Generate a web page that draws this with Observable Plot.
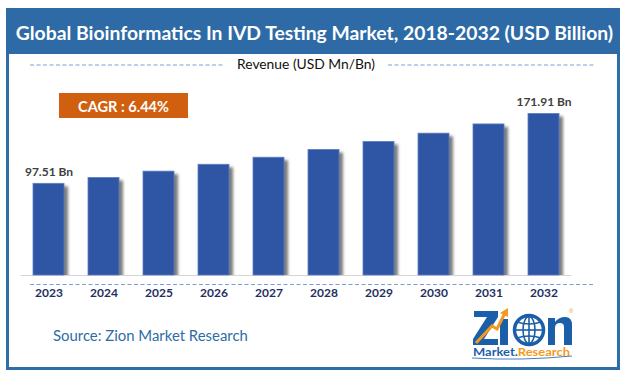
<!DOCTYPE html>
<html><head><meta charset="utf-8">
<script src="https://cdn.jsdelivr.net/npm/d3@7"></script>
<script src="https://cdn.jsdelivr.net/npm/@observablehq/plot@0.6"></script>
<style>
html,body{margin:0;padding:0;background:#fff;}
#root{position:relative;width:626px;height:377px;overflow:hidden;font-family:Lato,"Open Sans",sans-serif;}
#frame{position:absolute;left:6px;top:8px;width:608px;height:356px;border:3px solid #2e6da6;}
#titlebar{position:absolute;left:6px;top:8px;width:614px;height:46px;background:#2e6aa6;}
.t{position:absolute;white-space:nowrap;line-height:1;}
#title{color:#fff;font-weight:700;}
#subtitle{color:#111;font-weight:400;}
#cagrbox{position:absolute;left:59px;top:93px;width:129px;height:25px;background:#d0600f;}
#cagr{color:#fff;font-weight:700;}
#source{color:#2e6da4;}
#plot{position:absolute;left:0;top:60px;}
#decor,#logo{position:absolute;left:0;top:0;}
</style></head>
<body>
<div id="root">
  <div id="frame"></div>
  <div id="titlebar"></div>
  <svg id="decor" width="626" height="377"></svg>
  <div id="cagrbox"></div>
  <div class="t" id="title">Global Bioinformatics In IVD Testing Market, 2018-2032 (USD Billion)</div>
  <div class="t" id="subtitle">Revenue (USD Mn/Bn)</div>
  <div class="t" id="cagr">CAGR : 6.44%</div>
  <div class="t" id="source">Source: Zion Market Research</div>
  <div id="plot"></div>
  <svg id="logo" width="626" height="377"></svg>
</div>
<script>
const years = ["2023","2024","2025","2026","2027","2028","2029","2030","2031","2032"];
const revenue = [97.51, 103.8, 110.5, 117.8, 125.3, 133.6, 142.1, 150.9, 160.7, 171.91];
const valueLabels = ["97.51 Bn","","","","","","","","","171.91 Bn"];

const data = years.map((year, i) => ({year, value: revenue[i], label: valueLabels[i]}));

// fit text helper: set size so text spans targetWidth, centered at cx, cy
function place(id, base, targetW, cx, cy, left) {
  const el = document.getElementById(id);
  el.style.fontSize = base + "px";
  const w = el.getBoundingClientRect().width;
  const fs = base * targetW / w;
  el.style.fontSize = fs + "px";
  const r = el.getBoundingClientRect();
  el.style.left = (left != null ? left : cx - r.width / 2) + "px";
  el.style.top = (cy - r.height / 2) + "px";
}
place("title", 20, 598, 314.5, 32.5);
place("subtitle", 13, 138, 306, 64);
place("cagr", 14, 91, 123.5, 107);
place("source", 15, 195, 0, 335, 53);

const chart = Plot.plot({
  width: 626,
  height: 250,
  marginLeft: 21,
  marginRight: 55,
  marginTop: 27,
  marginBottom: 35,
  x: {domain: years, paddingInner: 0.436, paddingOuter: 0.218, axis: null},
  y: {domain: [0, 200], axis: null},
  style: {fontFamily: "Lato, sans-serif", background: "transparent", overflow: "visible"},
  marks: [
    Plot.barY(data, {x: "year", y: "value", fill: "#5a5a5a", fillOpacity: 0.8, dx: 4, dy: 3, clip: true}),
    Plot.ruleY([0], {stroke: "#d6d6d6", strokeWidth: 1.2}),
    Plot.barY(data, {x: "year", y: "value", fill: "#2f56a5", stroke: "#5d7ec2", strokeWidth: 0.8}),
    Plot.text(data.filter(d => d.label), {x: "year", y: "value", text: "label", dy: -12, fontSize: 12, fontWeight: "bold", fill: "#404040"}),
    Plot.axisX({tickSize: 0, tickPadding: 13, fontSize: 12, fontWeight: "bold", fill: "#1f2f5f", label: null})
  ]
});
document.getElementById("plot").appendChild(chart);

// shadow blur
const svg = d3.select(chart);
svg.append("defs").append("filter").attr("id", "sh").attr("x", "-50%").attr("width", "200%")
  .append("feGaussianBlur").attr("stdDeviation", 1.6);
svg.select('g[aria-label="bar"]').attr("filter", "url(#sh)");

// decorative dashed lines
const decor = d3.select("#decor");
[[30, 225, 65], [388, 594, 65], [30, 594, 284.5]].forEach(([x1, x2, y]) => {
  decor.append("line").attr("x1", x1).attr("x2", x2).attr("y1", y).attr("y2", y)
    .attr("stroke", "#7f9fd4").attr("stroke-width", 1).attr("stroke-dasharray", "4,2.5");
});

// logo (graphic mark drawn as shapes, wordmark as text)
const logo = d3.select("#logo");
const blue = "#1b5fa9", orange = "#f39a1c";
logo.append("path").attr("fill", blue)
  .attr("d", "M474,311 H498 V317 L484,339 H498 V345 H473 V339 L487,317 H474 Z");
logo.append("rect").attr("x", 500).attr("y", 319).attr("width", 8).attr("height", 26).attr("fill", blue);
logo.append("polyline").attr("points", "476,343 492,326 497,329 505,313")
  .attr("fill", "none").attr("stroke", orange).attr("stroke-width", 3);
logo.append("path").attr("d", "M500,313 L508,308 L508,317 Z").attr("fill", orange);
const g = logo.append("g").attr("fill", "none").attr("stroke", blue).attr("stroke-width", 1.6);
g.append("circle").attr("cx", 529).attr("cy", 330).attr("r", 14.5).attr("fill", "#fff").attr("stroke-width", 3.5);
g.append("ellipse").attr("cx", 529).attr("cy", 330).attr("rx", 6).attr("ry", 13.5);
g.append("line").attr("x1", 515).attr("x2", 543).attr("y1", 330).attr("y2", 330);
g.append("line").attr("x1", 529).attr("x2", 529).attr("y1", 316).attr("y2", 344);
g.append("path").attr("d", "M517,322 Q529,326 541,322 M517,338 Q529,334 541,338");
logo.append("path").attr("fill", blue)
  .attr("d", "M548,345 V318 H555 V322 Q559,317 565,317 Q572,317 572,325 V345 H564 V327 Q564,323 560,323 Q555,323 555,328 V345 Z");
logo.append("text").attr("x", 569).attr("y", 313).attr("font-size", 6).attr("fill", orange)
  .attr("font-family", "sans-serif").text("®");
const t2 = logo.append("text").attr("x", 473).attr("y", 356).attr("font-family", "Lato, sans-serif")
  .attr("font-weight", "bold").attr("font-size", 11.5).attr("textLength", 97).attr("lengthAdjust", "spacingAndGlyphs");
t2.append("tspan").attr("fill", blue).text("Market.");
t2.append("tspan").attr("fill", orange).text("Research");
logo.append("path").attr("d", "M472,358 Q520,361 572,356").attr("fill", "none").attr("stroke", blue).attr("stroke-width", 0.8);
</script>
</body></html>
